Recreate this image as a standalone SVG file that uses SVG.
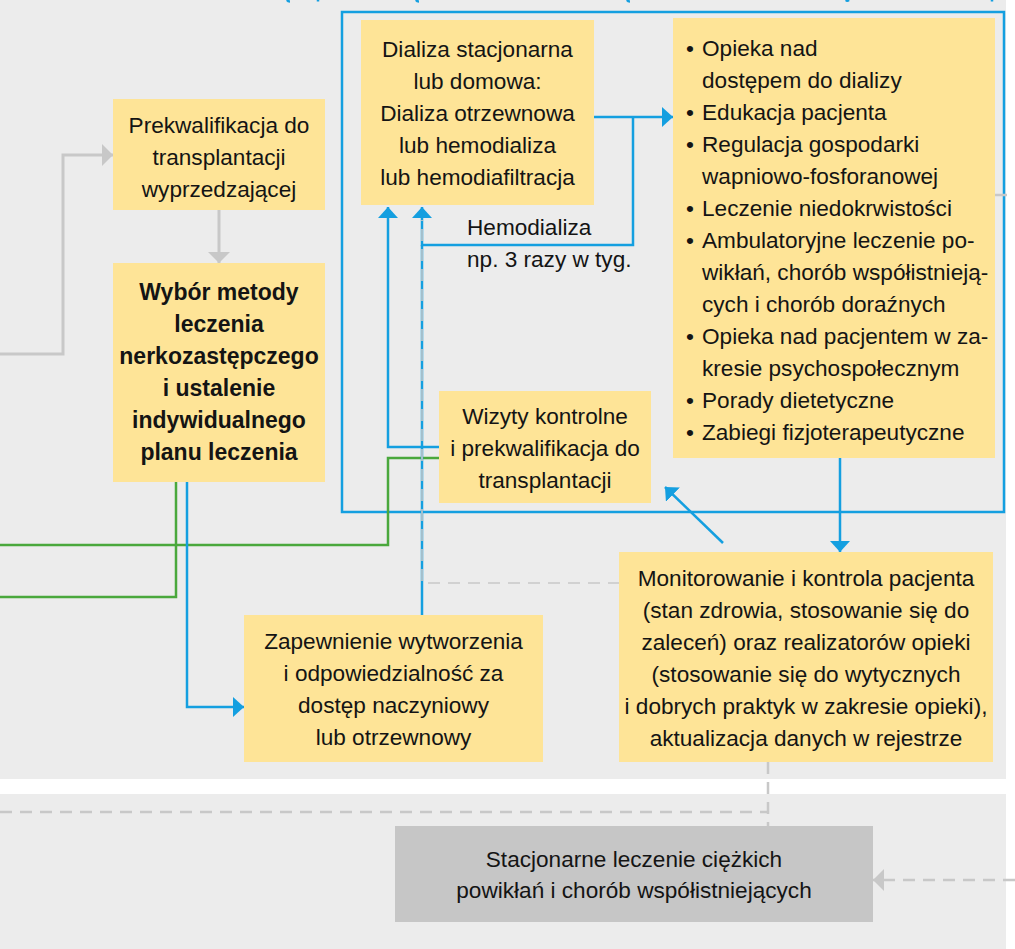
<svg xmlns="http://www.w3.org/2000/svg" width="1015" height="949" viewBox="0 0 1015 949">
  <defs>
    <style>
      .panel { fill: #ececec; }
      .box { fill: #fee497; }
      .box-gray { fill: #c6c6c6; }
      .txt { font-family: "Liberation Sans", Arial, sans-serif; font-size: 22.6px; fill: #141414; }
      .mid { text-anchor: middle; }
      .bold { font-weight: bold; font-size: 23px; }
      .blue { fill: none; stroke: #149fe0; stroke-width: 2.5; }
      .green { fill: none; stroke: #4aa83c; stroke-width: 2.5; }
      .gray { fill: none; stroke: #c8c8c8; stroke-width: 3; }
      .gray-dash { fill: none; stroke: #c8c8c8; stroke-width: 2.5; stroke-dasharray: 12 8; }
      .gray-dash-thin { fill: none; stroke: #c8c8c8; stroke-width: 1.6; stroke-dasharray: 12 8; }
    </style>
    <marker id="arrow-blue" viewBox="0 0 11 20" refX="11" refY="10" markerWidth="11" markerHeight="20" markerUnits="userSpaceOnUse" orient="auto">
      <path d="M0,0 L11,10 L0,20 Z" fill="#149fe0"/>
    </marker>
    <marker id="arrow-gray" viewBox="0 0 11 22" refX="11" refY="11" markerWidth="11" markerHeight="22" markerUnits="userSpaceOnUse" orient="auto">
      <path d="M0,0 L11,11 L0,22 Z" fill="#c8c8c8"/>
    </marker>
  </defs>

  <!-- background panels -->
  <rect x="0" y="0" width="1015" height="949" fill="#ffffff"/>
  <rect class="panel" x="0" y="0" width="1006" height="779"/>
  <rect class="panel" x="0" y="794" width="1006" height="155"/>

  <!-- dialysis care frame -->
  <rect x="342" y="12" width="662" height="500" fill="none" stroke="#149fe0" stroke-width="2.5"/>

  <g id="connectors">
    <!-- blue fragments at the top edge -->
    <path class="blue" d="M287,0 Q288,1.5 290,1.5" stroke-width="2"/>
    <path class="blue" d="M318,0 V1.5" stroke-width="2"/>
    <path class="blue" d="M416,0 Q417,1.5 419,1.5" stroke-width="2"/>
    <path class="blue" d="M627,0 Q628,1.5 630,1.5" stroke-width="2"/>
    <path class="blue" d="M846,0 Q847,1.5 849,0" stroke-width="2"/>
    <path class="blue" d="M992,0 V1.5" stroke-width="2"/>

    <!-- gray solid -->
    <path class="gray" d="M0,354 H63 V155 H113" marker-end="url(#arrow-gray)"/>
    <path class="gray" d="M219,210 V263" marker-end="url(#arrow-gray)"/>

    <!-- green -->
    <path class="green" d="M439,458 H388 V545 H0"/>
    <path class="green" d="M176,482 V597 H0"/>

    <!-- blue -->
    <path class="blue" d="M594,117 H673" marker-end="url(#arrow-blue)"/>
    <path class="blue" d="M633,117 V245 H422 V207" marker-end="url(#arrow-blue)"/>
    <path class="blue" d="M422,615 V245"/>
    <path class="blue" d="M439,447 H388 V207" marker-end="url(#arrow-blue)"/>
    <path class="blue" d="M187,482 V707 H244" marker-end="url(#arrow-blue)"/>
    <path class="blue" d="M840,458 V552" marker-end="url(#arrow-blue)"/>
    <path class="blue" d="M723,543 L665,487" marker-end="url(#arrow-blue)"/>

    <!-- gray dashed -->
    <path class="gray-dash-thin" d="M620,583 H422 V220"/>
    <path class="gray-dash" d="M768,762 V826"/>
    <path class="gray-dash" d="M0,812 H768"/>
    <path class="gray-dash" d="M1015,880 H873" marker-end="url(#arrow-gray)"/>
    <path class="gray-dash" d="M995,195 H1015" stroke-dasharray="6 10"/>
  </g>

  <g id="prekwalifikacja">
    <rect class="box" x="113" y="99" width="212" height="111"/>
    <text class="txt mid" x="219" y="133">Prekwalifikacja do</text>
    <text class="txt mid" x="219" y="165">transplantacji</text>
    <text class="txt mid" x="219" y="197">wyprzedzającej</text>
  </g>

  <g id="wybor">
    <rect class="box" x="113" y="263" width="212" height="219"/>
    <text class="txt mid bold" x="219" y="300">Wybór metody</text>
    <text class="txt mid bold" x="219" y="332">leczenia</text>
    <text class="txt mid bold" x="219" y="364">nerkozastępczego</text>
    <text class="txt mid bold" x="219" y="396">i ustalenie</text>
    <text class="txt mid bold" x="219" y="428">indywidualnego</text>
    <text class="txt mid bold" x="219" y="460">planu leczenia</text>
  </g>

  <g id="dializa">
    <rect class="box" x="361" y="20" width="233" height="185"/>
    <text class="txt mid" x="477.5" y="57">Dializa stacjonarna</text>
    <text class="txt mid" x="477.5" y="89">lub domowa:</text>
    <text class="txt mid" x="477.5" y="121">Dializa otrzewnowa</text>
    <text class="txt mid" x="477.5" y="153">lub hemodializa</text>
    <text class="txt mid" x="477.5" y="185">lub hemodiafiltracja</text>
  </g>

  <g id="hemodializa-label">
    <text class="txt" x="467" y="235">Hemodializa</text>
    <text class="txt" x="467" y="267">np. 3 razy w tyg.</text>
  </g>

  <g id="opieka">
    <rect class="box" x="673" y="18" width="322" height="440"/>
    <g class="txt">
      <text x="686" y="56">•</text>
      <text x="702" y="56">Opieka nad</text>
      <text x="702" y="88">dostępem do dializy</text>
      <text x="686" y="120">•</text>
      <text x="702" y="120">Edukacja pacjenta</text>
      <text x="686" y="152">•</text>
      <text x="702" y="152">Regulacja gospodarki</text>
      <text x="702" y="184">wapniowo-fosforanowej</text>
      <text x="686" y="216">•</text>
      <text x="702" y="216">Leczenie niedokrwistości</text>
      <text x="686" y="248">•</text>
      <text x="702" y="248">Ambulatoryjne leczenie po-</text>
      <text x="702" y="280">wikłań, chorób współistnieją-</text>
      <text x="702" y="312">cych i chorób doraźnych</text>
      <text x="686" y="344">•</text>
      <text x="702" y="344">Opieka nad pacjentem w za-</text>
      <text x="702" y="376">kresie psychospołecznym</text>
      <text x="686" y="408">•</text>
      <text x="702" y="408">Porady dietetyczne</text>
      <text x="686" y="440">•</text>
      <text x="702" y="440">Zabiegi fizjoterapeutyczne</text>
    </g>
  </g>

  <g id="wizyty">
    <rect class="box" x="439" y="391" width="212" height="112"/>
    <text class="txt mid" x="545" y="424">Wizyty kontrolne</text>
    <text class="txt mid" x="545" y="456">i prekwalifikacja do</text>
    <text class="txt mid" x="545" y="488">transplantacji</text>
  </g>

  <g id="zapewnienie">
    <rect class="box" x="244" y="615" width="299" height="147"/>
    <text class="txt mid" x="393.5" y="649">Zapewnienie wytworzenia</text>
    <text class="txt mid" x="393.5" y="681">i odpowiedzialność za</text>
    <text class="txt mid" x="393.5" y="713">dostęp naczyniowy</text>
    <text class="txt mid" x="393.5" y="745">lub otrzewnowy</text>
  </g>

  <g id="monitorowanie">
    <rect class="box" x="619" y="552" width="374" height="210"/>
    <text class="txt mid" x="806" y="586">Monitorowanie i kontrola pacjenta</text>
    <text class="txt mid" x="806" y="618">(stan zdrowia, stosowanie się do</text>
    <text class="txt mid" x="806" y="650">zaleceń) oraz realizatorów opieki</text>
    <text class="txt mid" x="806" y="682">(stosowanie się do wytycznych</text>
    <text class="txt mid" x="806" y="714">i dobrych praktyk w zakresie opieki),</text>
    <text class="txt mid" x="806" y="746">aktualizacja danych w rejestrze</text>
  </g>

  <g id="stacjonarne">
    <rect class="box-gray" x="395" y="826" width="478" height="96"/>
    <text class="txt mid" x="634" y="867">Stacjonarne leczenie ciężkich</text>
    <text class="txt mid" x="634" y="898">powikłań i chorób współistniejących</text>
  </g>
</svg>
